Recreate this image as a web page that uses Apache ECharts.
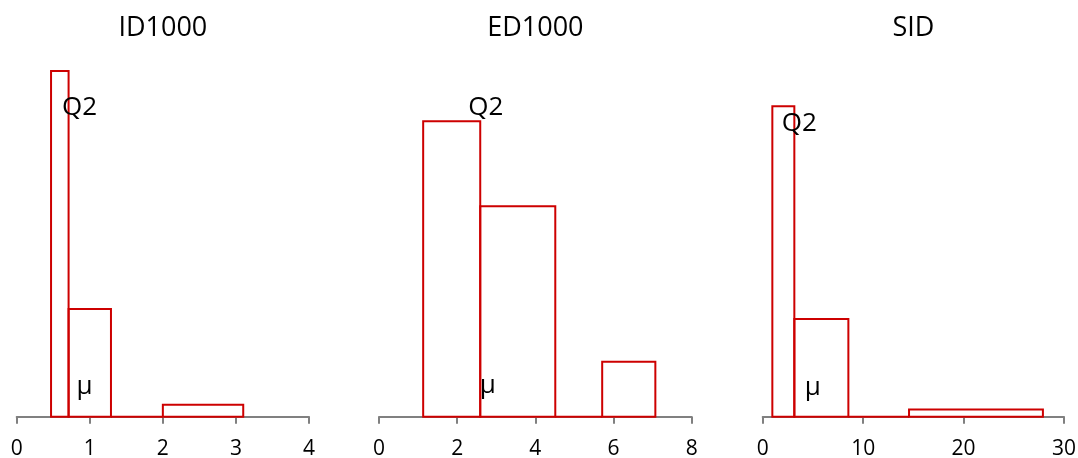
<!DOCTYPE html>
<html>
<head>
<meta charset="utf-8">
<script src="https://cdn.jsdelivr.net/npm/echarts@6/dist/echarts.min.js"></script>
<style>
  html, body { margin: 0; padding: 0; background: #fff; }
  #chart { width: 1078px; height: 458px; }
</style>
</head>
<body>
<div id="chart"></div>
<script>
// Panel titles
const titles = ['ID1000', 'ED1000', 'SID'];

// Histogram bin edges (variable width) and densities per panel
const binsID = [[0.47, 0.71], [0.71, 1.29], [1.29, 2.0], [2.0, 3.10]];
const densID = [2.18, 0.68, 0, 0.076];

const binsED = [[1.13, 2.59], [2.59, 4.51], [4.51, 5.71], [5.71, 7.07]];
const densED = [0.323, 0.230, 0, 0.060];

const binsSID = [[0.96, 3.15], [3.15, 8.53], [8.53, 14.57], [14.57, 27.9]];
const densSID = [0.235, 0.074, 0, 0.0055];

// Marker labels: [x, y] for median (Q2) and mean (μ)
const q2ID = [0.86, 1.95];
const muID = [0.93, 0.19];
const q2ED = [2.73, 0.3375];
const muED = [2.78, 0.034];
const q2SID = [3.65, 0.222];
const muSID = [4.98, 0.022];

// Axis ranges and tick intervals
const xMax = [4, 8, 30];
const xInterval = [1, 2, 10];
const yMax = [2.25, 0.39, 0.27];

const panels = [
  { bins: binsID, dens: densID, q2: q2ID, mu: muID },
  { bins: binsED, dens: densED, q2: q2ED, mu: muED },
  { bins: binsSID, dens: densSID, q2: q2SID, mu: muSID }
];

const gridLeft = [16.7, 379, 762.7];
const gridWidth = [292.3, 312.7, 301.3];
const RED = '#CD0000';
const FONT = '"Open Sans", "Noto Sans", sans-serif';

const chart = echarts.init(document.getElementById('chart'), null, { renderer: 'canvas' });

const grids = [], xAxes = [], yAxes = [], series = [], graphics = [];

panels.forEach((p, i) => {
  grids.push({
    left: gridLeft[i], width: gridWidth[i], top: 60, bottom: 41.3,
    containLabel: false, outerBoundsMode: 'none'
  });
  xAxes.push({
    type: 'value', gridIndex: i, min: 0, max: xMax[i], interval: xInterval[i],
    axisLine: { show: true, onZero: false, lineStyle: { color: '#808080', width: 2 } },
    axisTick: { show: true, length: 7, lineStyle: { color: '#808080', width: 2 } },
    splitLine: { show: false },
    axisLabel: { color: '#000', fontSize: 21, fontFamily: FONT, margin: 22 }
  });
  yAxes.push({ type: 'value', gridIndex: i, min: 0, max: yMax[i], show: false });

  // Histogram bars as outlined rectangles
  series.push({
    type: 'custom', xAxisIndex: i, yAxisIndex: i, z: 5,
    data: p.bins.map((b, k) => [b[0], b[1], p.dens[k]]),
    renderItem: function (params, api) {
      const a = api.coord([api.value(0), 0]);
      const b = api.coord([api.value(1), api.value(2)]);
      return {
        type: 'rect',
        shape: { x: a[0], y: b[1], width: b[0] - a[0], height: a[1] - b[1] },
        style: { fill: 'none', stroke: RED, lineWidth: 2 }
      };
    }
  });

  // Median and mean annotations
  const marks = [[p.q2[0], p.q2[1], 'Q2'], [p.mu[0], p.mu[1], 'μ']];
  series.push({
    type: 'custom', xAxisIndex: i, yAxisIndex: i, z: 6, silent: true,
    data: marks.map(m => [m[0], m[1]]),
    renderItem: function (params, api) {
      const c = api.coord([api.value(0), api.value(1)]);
      return {
        type: 'text', x: c[0], y: c[1],
        style: {
          text: marks[params.dataIndex][2], fill: '#000',
          font: '26px ' + FONT, textAlign: 'center', textVerticalAlign: 'middle'
        }
      };
    }
  });

  graphics.push({
    type: 'text',
    x: gridLeft[i] + gridWidth[i] / 2, y: 28,
    style: {
      text: titles[i], fill: '#000', font: '27px ' + FONT,
      textAlign: 'center', textVerticalAlign: 'middle'
    }
  });
});

chart.setOption({
  animation: false,
  backgroundColor: '#fff',
  grid: grids,
  xAxis: xAxes,
  yAxis: yAxes,
  series: series,
  graphic: graphics
});
</script>
</body>
</html>
